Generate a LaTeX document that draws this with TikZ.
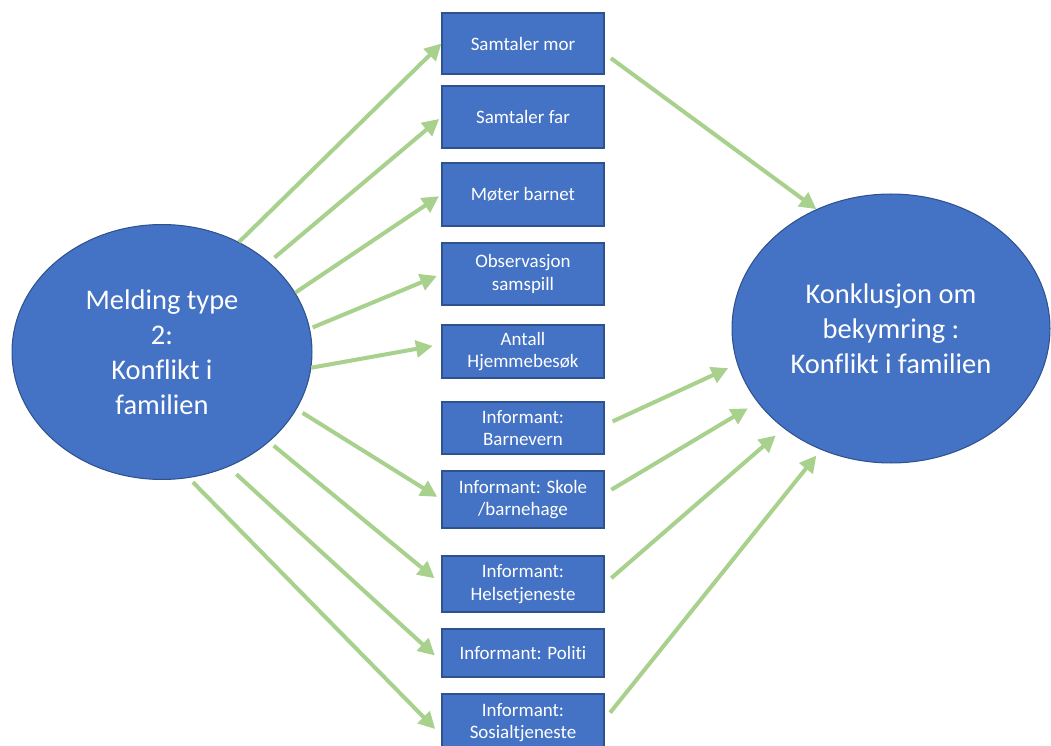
\documentclass[tikz,border=0pt]{standalone}
\usepackage{fontspec}
\setmainfont{Carlito}[Ligatures=NoCommon]
\usetikzlibrary{arrows.meta,shapes.geometric}
\definecolor{boxblue}{HTML}{4472C4}
\definecolor{edgeblue}{HTML}{2F528F}
\definecolor{arrowgreen}{HTML}{A9D18E}
\tikzset{
  tema/.style={ellipse, fill=boxblue, draw=edgeblue, line width=0.6pt, text=white,
    align=center, inner sep=0pt, font=\fontsize{16.2}{20}\selectfont},
  kilde/.style={rectangle, fill=boxblue, draw=edgeblue, line width=0.6pt, text=white,
    align=center, inner sep=0pt, minimum width=3.24cm, font=\fontsize{10.8}{12.8}\selectfont},
  pil/.style={draw=arrowgreen, line width=2.3pt, -{Triangle[length=9.5pt,width=9.5pt]}}
}
\begin{document}
\begin{tikzpicture}[x=0.02cm,y=-0.02cm]
 			\useasboundingbox (0,0) rectangle (1051,746);
 			% de to ellipsene
 			\node[tema, minimum width=6cm, minimum height=5.1cm] (melding) at (162,352) {Melding type\\2:\\Konflikt i\\familien};
 			\node[tema, minimum width=6.36cm, minimum height=5.38cm] (konklusjon) at (891,328.5) {Konklusjon om\\bekymring :\\Konflikt i familien};
 			% kildene i midten
 			\node[kilde, minimum height=1.22cm] (mor) at (523,43.5) {Samtaler mor};
 			\node[kilde, minimum height=1.24cm] (far) at (523,117) {Samtaler far};
 			\node[kilde, minimum height=1.26cm] (barnet) at (523,194.5) {Møter barnet};
 			\node[kilde, minimum height=1.24cm] (samspill) at (523,274) {Observasjon\\samspill};
 			\node[kilde, minimum height=1.06cm] (besok) at (523,351.5) {Antall\\Hjemmebesøk};
 			\node[kilde, minimum height=1.04cm] (barnevern) at (523,428) {Informant:\\Barnevern};
 			\node[kilde, minimum height=1.14cm] (skole) at (523,499.5) {Informant: Skole\\/barnehage};
 			\node[kilde, minimum height=1.12cm] (helse) at (523,584) {Informant:\\Helsetjeneste};
 			\node[kilde, minimum height=0.96cm] (politi) at (523,653) {Informant: Politi};
 			\node[kilde, minimum height=1.14cm] (sosial) at (523,722.5) {Informant:\\Sosialtjeneste};
 			% piler fra meldingen
 			\draw[pil] (melding.55) -- (mor.west);
 			\draw[pil, shorten <=4pt, shorten >=1.7pt] (melding.40) -- (far.west);
 			\draw[pil, shorten >=1.7pt] (melding.24) -- (barnet.west);
 			\draw[pil, shorten <=1.7pt, shorten >=2.8pt] (melding.9.5) -- (samspill.west);
 			\draw[pil, shorten >=5.1pt] (melding.-6) -- (besok.175);
 			\draw[pil, shorten <=4pt, shorten >=2.8pt] (melding.-23) -- (skole.west);
 			\draw[pil, shorten <=3.4pt, shorten >=5.1pt] (melding.-40) -- (helse.west);
 			\draw[pil, shorten <=6.2pt, shorten >=5.1pt] (melding.-60) -- (politi.-174);
 			\draw[pil, shorten <=3.4pt, shorten >=5.1pt] (melding.-78) -- (sosial.-171);
 			% piler til konklusjonen
 			\draw[pil, shorten <=4.5pt] (mor.-7) -- (konklusjon.122.6);
 			\draw[pil, shorten <=5.1pt, shorten >=5.6pt] (barnevern.2) -- (konklusjon.193);
 			\draw[pil, shorten <=4.5pt, shorten >=6.5pt] (skole.4) -- (konklusjon.209.5);
 			\draw[pil, shorten <=5.1pt, shorten >=6.1pt] (helse.east) -- (konklusjon.223.3);
 			\draw[pil, shorten <=5.1pt, shorten >=4.2pt] (sosial.2.5) -- (konklusjon.240.2);
 		\end{tikzpicture}
\end{document}
